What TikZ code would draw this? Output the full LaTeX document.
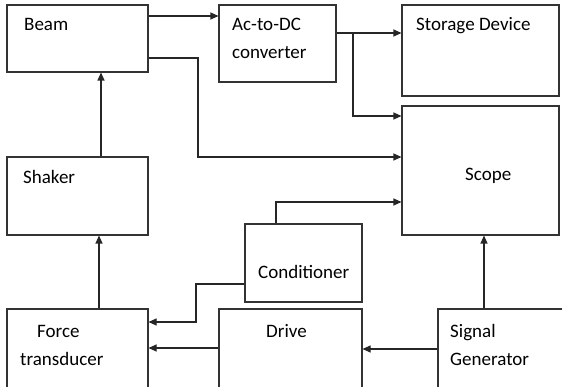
\documentclass[tikz,border=0pt]{standalone}
\usepackage{fontspec}
\setmainfont{Carlito}
\usetikzlibrary{arrows.meta}
\begin{document}
\begin{tikzpicture}[x=1pt,y=-1pt,
  box/.style={draw=black!80,line width=1.1pt,rectangle,inner sep=0pt},
  lbl/.style={anchor=base west,inner sep=0pt,font=\fontsize{19}{22}\selectfont},
  arr/.style={draw=black!85,line width=1.1pt,-{Triangle[length=8pt,width=7pt]}},
  ln/.style={draw=black!85,line width=1.1pt}]
\useasboundingbox (0,0) rectangle (562,387);
\clip (0,0) rectangle (562,387);
% boxes
\node[box,minimum width=141pt,minimum height=67pt] (beam) at (77.5,38.5) {};
\node[box,minimum width=117pt,minimum height=77pt] (acdc) at (277.5,43.5) {};
\node[box,minimum width=157pt,minimum height=91pt] (storage) at (480.5,50.5) {};
\node[box,minimum width=157pt,minimum height=129pt] (scope) at (480.5,170.5) {};
\node[box,minimum width=141pt,minimum height=78pt] (shaker) at (77.5,196) {};
\node[box,minimum width=117pt,minimum height=78pt] (cond) at (303.5,263) {};
\node[box,minimum width=141pt,minimum height=83pt] (force) at (77.5,350.5) {};
\node[box,minimum width=143pt,minimum height=83pt] (drive) at (290.5,350.5) {};
\node[box,minimum width=128pt,minimum height=83pt] (sig) at (502,350.5) {};
% labels
\node[lbl] (tbeam) at (24,31) {Beam};
\node[lbl] (tacdc1) at (232,31) {Ac-to-DC};
\node[lbl] (tacdc2) at (232,59) {converter};
\node[lbl] (tstor) at (416,31) {Storage Device};
\node[lbl] (tscope) at (465,181) {Scope};
\node[lbl] (tshaker) at (23,184) {Shaker};
\node[lbl] (tcond) at (258,279) {Conditioner};
\node[lbl] (tforce1) at (37,337) {Force};
\node[lbl] (tforce2) at (20,365) {transducer};
\node[lbl] (tdrive) at (266,337) {Drive};
\node[lbl] (tsig1) at (450,337) {Signal};
\node[lbl] (tsig2) at (450,365) {Generator};
% bend points
\coordinate (b1) at (198,58);
\coordinate (b2) at (198,157);
\coordinate (br) at (353,33);
\coordinate (br2) at (353,116);
\coordinate (c1) at (276,202);
\coordinate (c2) at (196,284);
\coordinate (c3) at (196,322);
% connectors
\draw[arr] (beam.east |- 0,16) -- (acdc.west |- 0,16);
\draw[arr] (beam.east |- b1) -- (b1) -- (b2) -- (scope.west |- b2);
\draw[arr] (acdc.east |- br) -- (storage.west |- br);
\draw[arr] (br) -- (br2) -- (scope.west |- br2);
\draw[arr] (cond.north -| c1) -- (c1) -- (scope.west |- c1);
\draw[arr] (shaker.north -| 101,0) -- (beam.south -| 101,0);
\draw[arr] (force.north -| 99,0) -- (shaker.south -| 99,0);
\draw[arr] (cond.west |- c2) -- (c2) -- (c3) -- (force.east |- c3);
\draw[arr] (drive.west |- 0,348) -- (force.east |- 0,348);
\draw[arr] (sig.west |- 0,349) -- (drive.east |- 0,349);
\draw[arr] (sig.north -| 484,0) -- (scope.south -| 484,0);
\end{tikzpicture}
\end{document}
